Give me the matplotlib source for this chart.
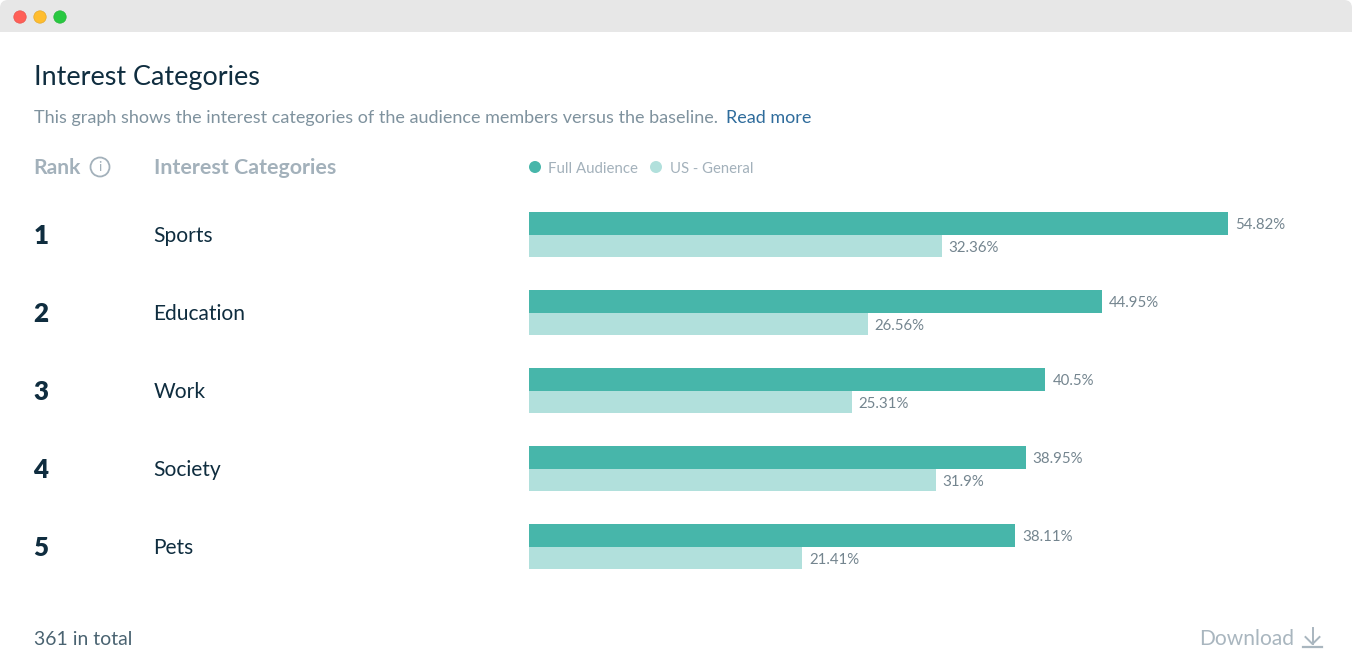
import matplotlib
matplotlib.use("Agg")
import matplotlib.pyplot as plt
from matplotlib.patches import Circle, FancyBboxPatch, Rectangle

plt.rcParams['font.family'] = ['Lato', 'DejaVu Sans']

ranks = ["1", "2", "3", "4", "5"]
categories = ["Sports", "Education", "Work", "Society", "Pets"]
full_audience = [54.82, 44.95, 40.5, 38.95, 38.11]
us_general = [32.36, 26.56, 25.31, 31.9, 21.41]
full_labels = ["54.82%", "44.95%", "40.5%", "38.95%", "38.11%"]
us_labels = ["32.36%", "26.56%", "25.31%", "31.9%", "21.41%"]
series_names = ["Full Audience", "US - General"]

W, H = 1352, 670
TEAL, LIGHT = "#47B6AA", "#B1E0DC"
DARK, GREY, HEAD, VAL = "#0F2D3F", "#7F929E", "#A3B1BB", "#74858F"

fig = plt.figure(figsize=(W / 100, H / 100), dpi=100, facecolor="white")
bg = fig.add_axes([0, 0, 1, 1])
bg.set_xlim(0, W)
bg.set_ylim(H, 0)
bg.axis("off")

# window chrome
bg.add_patch(FancyBboxPatch((0, 0), W, H, boxstyle="round,pad=0,rounding_size=8",
                            fc="white", ec="none"))
bg.add_patch(FancyBboxPatch((0, 0), W, 60, boxstyle="round,pad=0,rounding_size=8",
                            fc="#E7E7E7", ec="none"))
bg.add_patch(Rectangle((0, 32), W, 40, fc="white", ec="none"))
for x, c, e in [(20, "#FF5F57", "#E9544E"), (40, "#FFBD2E", "#E5A92B"), (60, "#28C840", "#25B63A")]:
    bg.add_patch(Circle((x, 17), 6.2, fc=c, ec=e, lw=0.5))


def T(x, y, s, px, color, **kw):
    kw.setdefault("va", "baseline")
    bg.text(x, y, s, fontsize=px * 0.72, color=color, **kw)


T(34, 85, "Interest Categories", 27, DARK)
T(34, 122.6, "This graph shows the interest categories of the audience members versus the baseline.",
  18.07, GREY)
T(726, 122.6, "Read more", 17.95, "#2F6C9C")
T(33.3, 174.5, "Rank", 21, HEAD, fontweight="bold")
T(154, 174.5, "Interest Categories", 21.4, HEAD, fontweight="bold")

# info icon
bg.add_patch(Circle((100, 167), 9.5, fc="none", ec=HEAD, lw=1.3))
T(100, 167, "i", 14, HEAD, ha="center", va="center")

# legend
bg.add_patch(Circle((535, 167), 6, fc=TEAL, ec="none"))
T(548, 173, series_names[0], 15, HEAD)
bg.add_patch(Circle((656, 167), 6, fc=LIGHT, ec="none"))
T(670, 173, series_names[1], 14.9, HEAD)

# rows
for i, (r, c) in enumerate(zip(ranks, categories)):
    T(33.3, 243.5 + 78 * i, r, 26, DARK, fontweight="heavy")
    T(153.3, 241.5 + 78 * i, c, 21, DARK)

# bars: scale 12.75 px per percent, 78 px per category
left, right, top, bottom = 529, 1340, 196, 586
ax = fig.add_axes([left / W, 1 - bottom / H, (right - left) / W, (bottom - top) / H])
ax.patch.set_alpha(0)
ax.set_xlim(0, (right - left) / 12.75)
ax.set_ylim((bottom - 234) / 78, (top - 234) / 78)
ax.axis("off")
h1, h2 = 23 / 78, 22 / 78
for i in range(len(categories)):
    y1 = i - 10.5 / 78
    y2 = i + 12 / 78
    ax.barh(y1, full_audience[i], height=h1, color=TEAL, lw=0)
    ax.barh(y2, us_general[i], height=h2, color=LIGHT, lw=0)
    ax.annotate(full_labels[i], (full_audience[i], y1), xytext=(5.0, -4.2),
                textcoords="offset points", va="baseline", fontsize=15 * 0.72, color=VAL)
    ax.annotate(us_labels[i], (us_general[i], y2), xytext=(5.0, -4.2),
                textcoords="offset points", va="baseline", fontsize=15 * 0.72, color=VAL)

# footer
T(34, 645, "361 in total", 19.4, "#4A6371")
T(1199.3, 645, "Download", 21, "#A9B6BF")
bg.plot([1312.5, 1312.5], [628, 644], color="#A9B6BF", lw=1.4)
bg.plot([1305.5, 1312.5, 1319.5], [637, 644, 637], color="#A9B6BF", lw=1.4)
bg.plot([1303, 1322], [647, 647], color="#A9B6BF", lw=1.6)

fig.savefig("out.png", dpi=100, facecolor="white")
